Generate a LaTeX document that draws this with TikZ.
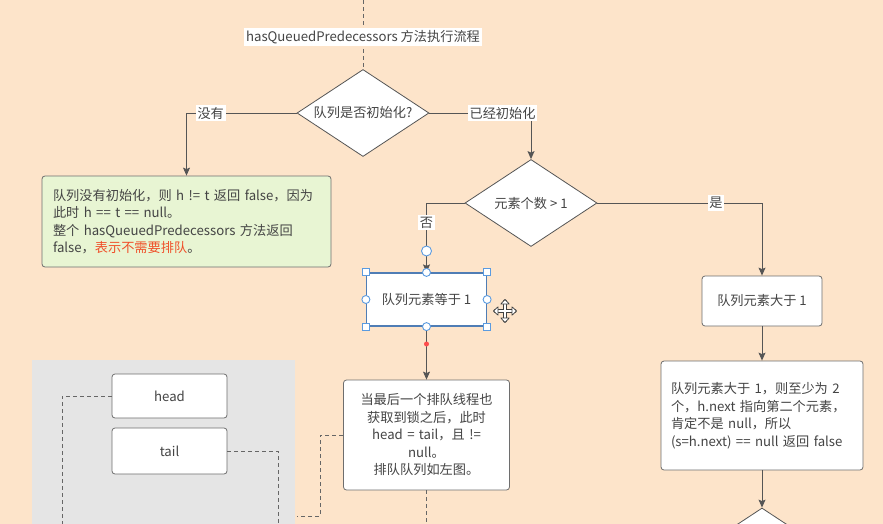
\documentclass[tikz,border=0pt]{standalone}
\usepackage{fontspec}
\setmainfont{Noto Sans CJK SC}
\usetikzlibrary{shapes.geometric,arrows.meta,calc}
\definecolor{bg}{HTML}{FDE4CA}
\definecolor{panel}{HTML}{E5E5E5}
\definecolor{greenfill}{HTML}{E8F5D3}
\definecolor{txt}{HTML}{444444}
\definecolor{ln}{HTML}{555555}
\definecolor{sel}{HTML}{4F7DB5}
\definecolor{hdl}{HTML}{5B9BE0}
\definecolor{redtxt}{HTML}{F0502A}
\begin{document}
\begin{tikzpicture}[x=1pt,y=-1pt,
  font=\fontsize{13.2}{17.5}\selectfont, text=txt,
  box/.style={draw=ln!85, fill=white, rounded corners=3pt, line width=0.8pt, inner sep=0pt},
  dia/.style={diamond, draw=ln, fill=white, line width=0.8pt, inner sep=0pt,
              shape aspect=1.52, minimum width=132pt, minimum height=87pt},
  conn/.style={draw=ln, line width=0.9pt, -{Stealth[width=7pt,length=8pt,inset=1.5pt]}},
  dconn/.style={draw=ln!90, line width=0.9pt, dash pattern=on 4pt off 3pt},
  lbl/.style={fill=white, inner sep=1.8pt},
  hsq/.style={draw=hdl, fill=white, line width=0.9pt, minimum size=7pt, inner sep=0pt, rectangle},
  hci/.style={draw=hdl, fill=white, line width=0.9pt, minimum size=8pt, inner sep=0pt, circle},
]
\useasboundingbox (0,0) rectangle (883,524);
\begin{scope}
\clip (0,0) rectangle (883,524);
\fill[bg] (0,0) rectangle (883,524);
\fill[panel] (32,360) rectangle (295,524);

% nodes
\node[dia] (d1) at (363,113) {队列是否初始化?};
\node[dia] (d2) at (531,203) {元素个数 > 1};
\node[box, fill=greenfill, minimum width=289pt, minimum height=91pt,
      text width=267pt, inner xsep=11pt, align=left] (g) at (186.5,221.5)
  {队列没有初始化，则 h != t 返回 false，因为\\
   此时 h == t == null。\\
   整个 hasQueuedPredecessors 方法返回\\
   false，{\color{redtxt}表示不需要排队}。};
\node[draw=sel, fill=white, line width=1.2pt, minimum width=120pt, minimum height=53pt,
      inner sep=0pt] (b3) at (426.5,299.5) {队列元素等于 1};
\node[box, minimum width=166pt, minimum height=110pt, text width=150pt, align=center]
  (b4) at (426.5,435) {当最后一个排队线程也\\获取到锁之后，此时\\head = tail，且 !=\\null。\\排队队列如左图。};
\node[box, minimum width=120pt, minimum height=50pt] (b5) at (762,301) {队列元素大于 1};
\node[box, minimum width=202pt, minimum height=109pt, text width=182pt,
      inner xsep=10pt, align=left] (b6) at (762,415.5)
  {队列元素大于 1，则至少为 2\\个，h.next 指向第二个元素，\\肯定不是 null，所以\\(s=h.next) == null 返回 false};
\node[dia] (d3) at (762,551.5) {};
\node[box, minimum width=115pt, minimum height=44pt] (head) at (169.5,396) {head};
\node[box, minimum width=115pt, minimum height=46pt] (tail) at (169.5,451) {tail};

% coordinates
\coordinate (top) at (363,0);
\coordinate (b4end) at (426.5,524);
\coordinate (p1) at (297,516);
\coordinate (hd) at (62,524);
\coordinate (td) at (278,524);

% connectors
\draw[dconn] (top) -- (d1.north);
\node[lbl] (title) at (363,37) {hasQueuedPredecessors 方法执行流程};
\draw[conn] (d1.west) -| node[lbl, pos=0.39] (l1) {没有} (g.north);
\draw[conn] (d1.east) -| node[lbl, pos=0.36] (l2) {已经初始化} (d2.north);
\draw[conn] (d2.west) -| node[lbl, pos=0.64] (l3) {否} (b3.north);
\draw[conn] (d2.east) -| node[lbl, pos=0.36] (l4) {是} (b5.north);
\draw[conn] (b3.south) -- (b4.north);
\draw[conn] (b5.south) -- (b6.north);
\draw[conn] (b6.south) -- (d3.north);
\draw[dconn] (b4.south) -- (b4end);
\draw[dconn] (b4.west) -- ++(-23,0) |- (p1);
\draw[dconn] (head.west) -| (hd);
\draw[dconn] (tail.east) -| (td);

% selection handles
\node[hci, minimum size=10pt] (h0) at (426.5,251) {};
\foreach \a in {north west,north east,south west,south east}
  \node[hsq] at (b3.\a) {};
\foreach \a in {north,south,east,west}
  \node[hci] at (b3.\a) {};
\fill[red!70!white] (426.5,344) circle (2.5pt);

% move cursor
\coordinate (mv) at (505,311);
\begin{scope}[shift={(mv)}]
  \draw[black!75, line width=3.2pt, line cap=round] (-10,0) -- (10,0) (0,-10) -- (0,10);
  \draw[white, line width=1.6pt] (-8,0) -- (8,0) (0,-8) -- (0,8);
  \foreach \r in {0,90,180,270}{
    \begin{scope}[rotate=\r]
      \filldraw[fill=white, draw=black!75, line width=0.7pt, line join=round]
        (11.5,0) -- (7,-4.2) -- (7,4.2) -- cycle;
    \end{scope}}
\end{scope}
\end{scope}
\end{tikzpicture}
\end{document}
